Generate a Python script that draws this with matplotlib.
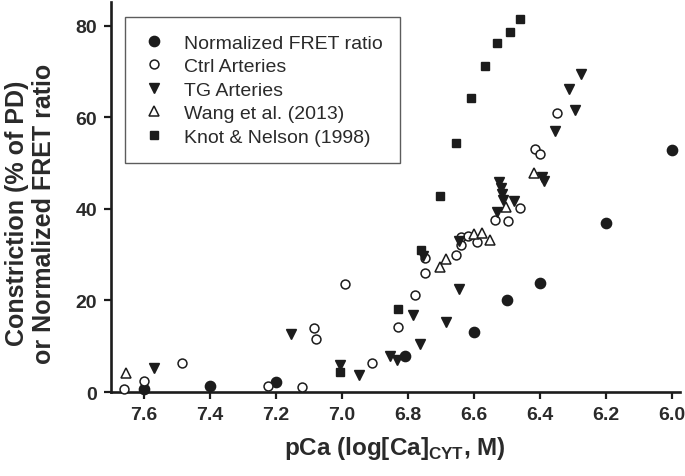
import matplotlib

matplotlib.use("Agg")
import matplotlib.pyplot as plt

plt.rcParams["font.family"] = ["Liberation Sans", "DejaVu Sans"]

INK = "#1c1c1c"
TEXT = "#2a2a2a"

# Normalized FRET ratio (filled circles)
fret_pca = [7.60, 7.40, 7.20, 6.81, 6.60, 6.50, 6.40, 6.20, 6.00]
fret_val = [0.6, 1.3, 2.2, 7.8, 13.2, 20.2, 23.8, 37.0, 52.9]

# Ctrl arteries (open circles)
ctrl_pca = [7.66, 7.60, 7.485, 7.225, 7.12, 7.085, 7.08, 6.99, 6.91, 6.83,
            6.78, 6.75, 6.75, 6.655, 6.64, 6.64, 6.62, 6.59, 6.537, 6.497,
            6.462, 6.415, 6.40, 6.35]
ctrl_val = [0.6, 2.5, 6.3, 1.3, 1.2, 14.0, 11.6, 23.6, 6.3, 14.1,
            21.3, 26.1, 29.3, 30.0, 33.8, 32.2, 34.1, 32.7, 37.6, 37.4,
            40.2, 53.0, 52.0, 60.9]

# TG arteries (filled down triangles)
tg_pca = [7.57, 7.155, 7.005, 6.95, 6.855, 6.835, 6.785, 6.765, 6.755, 6.685,
          6.645, 6.645, 6.526, 6.52, 6.515, 6.513, 6.48, 6.53, 6.395, 6.39,
          6.355, 6.296, 6.314, 6.276]
tg_val = [5.3, 12.7, 5.8, 3.8, 7.8, 6.9, 16.8, 10.5, 29.8, 15.4,
          22.5, 33.0, 45.9, 44.5, 43.2, 42.0, 41.8, 39.4, 47.0, 46.0,
          57.1, 61.5, 66.2, 69.5]

# Wang et al. (2013) (open up triangles)
wang_pca = [7.655, 6.705, 6.685, 6.60, 6.577, 6.552, 6.505, 6.418]
wang_val = [4.2, 27.3, 29.0, 34.6, 34.8, 33.3, 40.5, 47.9]

# Knot & Nelson (1998) (filled squares)
knot_pca = [7.005, 6.83, 6.76, 6.703, 6.654, 6.609, 6.567, 6.53, 6.493, 6.461]
knot_val = [4.4, 18.1, 31.0, 42.9, 54.4, 64.3, 71.3, 76.3, 78.6, 81.5]

x_ticks = [7.6, 7.4, 7.2, 7.0, 6.8, 6.6, 6.4, 6.2, 6.0]
y_ticks = [0, 20, 40, 60, 80]

fig = plt.figure(figsize=(6.85, 4.77), dpi=100)
ax = fig.add_axes([0.162, 0.176, 0.831, 0.818])

common = dict(linestyle="none", clip_on=False, zorder=3)
ax.plot(fret_pca, fret_val, marker="o", ms=7.4, color=INK,
        label="Normalized FRET ratio", **common)
ax.plot(ctrl_pca, ctrl_val, marker="o", ms=6.4, mfc="white", mec=INK, mew=1.1,
        label="Ctrl Arteries", **common)
ax.plot(tg_pca, tg_val, marker="v", ms=7.2, color=INK,
        label="TG Arteries", **common)
ax.plot(wang_pca, wang_val, marker="^", ms=6.6, mfc="white", mec=INK, mew=1.1,
        label="Wang et al. (2013)", **common)
ax.plot(knot_pca, knot_val, marker="s", ms=6.2, color=INK,
        label="Knot & Nelson (1998)", **common)

ax.set_xlim(7.70, 5.976)
ax.set_ylim(0, 85.2)
ax.set_xticks(x_ticks)
ax.set_xticklabels([f"{t:.1f}" for t in x_ticks])
ax.set_yticks(y_ticks)

for side in ("top", "right"):
    ax.spines[side].set_visible(False)
for side in ("left", "bottom"):
    ax.spines[side].set_linewidth(1.9)
    ax.spines[side].set_color(INK)

ax.tick_params(axis="both", length=5, width=1.6, color=INK, labelcolor=TEXT,
               labelsize=14, pad=5)
for lbl in ax.get_xticklabels() + ax.get_yticklabels():
    lbl.set_fontweight("bold")

ax.set_xlabel(r"pCa (log[Ca]$_{\mathregular{CYT}}$, M)", fontsize=17.5,
              fontweight="bold", color=TEXT)
ax.xaxis.set_label_coords(0.499, -0.108)
ax.set_ylabel("Constriction (% of PD)\nor Normalized FRET ratio", fontsize=18,
              fontweight="bold", color=TEXT, linespacing=1.15)
ax.yaxis.set_label_coords(-0.097, 0.46)

leg = ax.legend(loc="upper left", bbox_to_anchor=(0.025, 0.962), fontsize=14,
                frameon=True, fancybox=False, edgecolor="#333333",
                handlelength=1.2, handletextpad=0.9, borderpad=0.9,
                labelspacing=0.3, borderaxespad=0)
leg.get_frame().set_linewidth(1.0)
for text in leg.get_texts():
    text.set_color(TEXT)

fig.savefig("out.png", dpi=100)
